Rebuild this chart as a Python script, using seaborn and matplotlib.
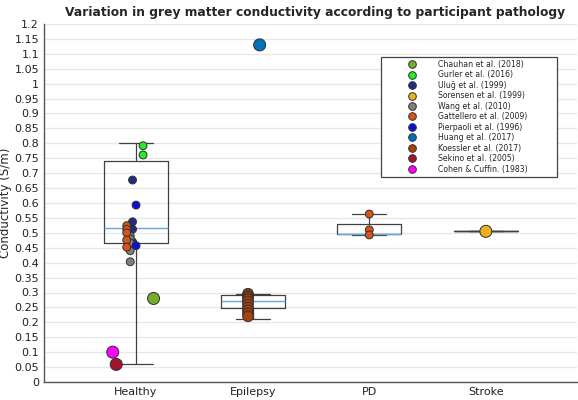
import numpy as np
import pandas as pd
import matplotlib
matplotlib.use("Agg")
import matplotlib.pyplot as plt
from matplotlib.lines import Line2D
from matplotlib.patches import Rectangle
import seaborn as sns

# categories and box statistics
groups = ['Healthy', 'Epilepsy', 'PD', 'Stroke']
whis_lo = [0.06, 0.21, 0.493, 0.505]
q1 = [0.466, 0.248, 0.495, 0.505]
medians = [0.517, 0.27, 0.495, 0.505]
q3 = [0.742, 0.29, 0.53, 0.505]
whis_hi = [0.80, 0.295, 0.563, 0.505]

# study values: (group, values)
chauhan = ('Healthy', [0.28])
gurler = ('Healthy', [0.792, 0.761])
ulug = ('Healthy', [0.677, 0.537, 0.512, 0.47])
sorensen = ('Stroke', [0.505])
wang = ('Healthy', [0.49, 0.48, 0.466, 0.44, 0.403])
gattellero_h = ('Healthy', [0.524, 0.512, 0.50, 0.476, 0.452])
gattellero_pd = ('PD', [0.563, 0.51, 0.493])
pierpaoli = ('Healthy', [0.593, 0.457])
huang = ('Epilepsy', [1.13])
koessler = ('Epilepsy', [0.296, 0.29, 0.284, 0.278, 0.27, 0.26, 0.25, 0.24, 0.23, 0.22])
sekino = ('Healthy', [0.059])
cohen = ('Healthy', [0.10])

studies = ['Chauhan et al. (2018)', 'Gurler et al. (2016)', 'Uluğ et al. (1999)',
           'Sorensen et al. (1999)', 'Wang et al. (2010)', 'Gattellero et al. (2009)',
           'Pierpaoli et al. (1996)', 'Huang et al. (2017)', 'Koessler et al. (2017)',
           'Sekino et al. (2005)', 'Cohen & Cuffin. (1983)']
colors = ['#77AC30', '#22EE22', '#1F2F80', '#EDB120', '#7F7F7F', '#D95319',
          '#0A10D8', '#0072BD', '#A6420C', '#A2142F', '#FF00FF']

rows = [(studies[0], chauhan), (studies[1], gurler), (studies[2], ulug),
        (studies[3], sorensen), (studies[4], wang), (studies[5], gattellero_h),
        (studies[5], gattellero_pd), (studies[6], pierpaoli), (studies[7], huang),
        (studies[8], koessler), (studies[9], sekino), (studies[10], cohen)]

# horizontal offset & marker size per study (style only)
offset = {studies[0]: 0.15, studies[1]: 0.06, studies[2]: -0.03, studies[3]: 0.0,
          studies[4]: -0.05, studies[5]: -0.08, studies[6]: 0.0, studies[7]: 0.06,
          studies[8]: -0.04, studies[9]: -0.17, studies[10]: -0.20}
big = {studies[0], studies[3], studies[7], studies[9], studies[10]}

recs = []
for name, (grp, vals) in rows:
    for v in vals:
        off = 0.0 if (name == studies[5] and grp == 'PD') else offset[name]
        sz = 75 if name in big else (58 if name == studies[8] else 32)
        recs.append({'study': name, 'group': grp, 'value': v,
                     'x': groups.index(grp) + off, 'sz': sz})
df = pd.DataFrame(recs)

sns.set_style('white')
plt.rcParams['font.family'] = ['DejaVu Sans']

fig = plt.figure(figsize=(5.78, 4.0), dpi=100)
ax = fig.add_axes([0.076, 0.045, 0.922, 0.895])

stats = [dict(whislo=whis_lo[i], q1=q1[i], med=medians[i], q3=q3[i], whishi=whis_hi[i], label=g)
         for i, g in enumerate(groups)]
bp = ax.bxp(stats, positions=range(len(groups)), widths=0.55, showfliers=False, capwidths=0.29,
            boxprops=dict(color='#404040', linewidth=0.9),
            whiskerprops=dict(color='#404040', linewidth=0.9),
            capprops=dict(color='#404040', linewidth=0.9),
            medianprops=dict(color='#6AA6D6', linewidth=1.0), zorder=2)
# collapsed box for Stroke reads as a grey line
bp['medians'][3].set_color('#404040')

pal = dict(zip(studies, colors))
for s in [32, 58, 75]:
    sub = df[df['sz'] == s]
    sns.scatterplot(data=sub, x='x', y='value', hue='study', palette=pal, s=s,
                    edgecolor='#303030', linewidth=0.7, legend=False, ax=ax, zorder=3)

ax.set_xlim(-0.79, 3.78)
ax.set_ylim(0, 1.2)
ticks = np.round(np.arange(0, 1.2001, 0.05), 2)
ax.set_yticks(ticks)
ax.set_yticklabels([f'{t:g}' for t in ticks])
ax.set_xticks(range(len(groups)))
ax.set_xticklabels(groups)
ax.yaxis.grid(True, color='#e6e6e6', linewidth=0.9)
ax.set_axisbelow(True)
ax.tick_params(direction='in', length=3, color='#555555', labelsize=8, labelcolor='#222222')
for sp in ['top', 'right']:
    ax.spines[sp].set_visible(False)
for sp in ['left', 'bottom']:
    ax.spines[sp].set_color('#555555')
    ax.spines[sp].set_linewidth(1.0)
ax.set_xlabel('')
ax.set_ylabel('Conductivity (S/m)', fontsize=8.5, labelpad=2)
fig.text(0.545, 0.985, 'Variation in grey matter conductivity according to participant pathology',
         fontsize=8.8, fontweight='bold', ha='center', va='top')

# legend box (MATLAB-style, wide right margin)
ax.add_patch(Rectangle((0.632, 0.573), 0.33, 0.335, transform=ax.transAxes,
                       facecolor='white', edgecolor='#444444', linewidth=0.9, zorder=4))
handles = [Line2D([], [], marker='o', linestyle='', markersize=5.5, markerfacecolor=c,
                  markeredgecolor='#303030', markeredgewidth=0.7) for c in colors]
leg = ax.legend(handles, studies, loc='upper left', bbox_to_anchor=(0.676, 0.9),
                fontsize=5.6, frameon=False, handletextpad=2.3, borderpad=0,
                labelspacing=0.19, handlelength=2.0, borderaxespad=0)
leg.set_zorder(5)

fig.savefig('out.png', dpi=100)
